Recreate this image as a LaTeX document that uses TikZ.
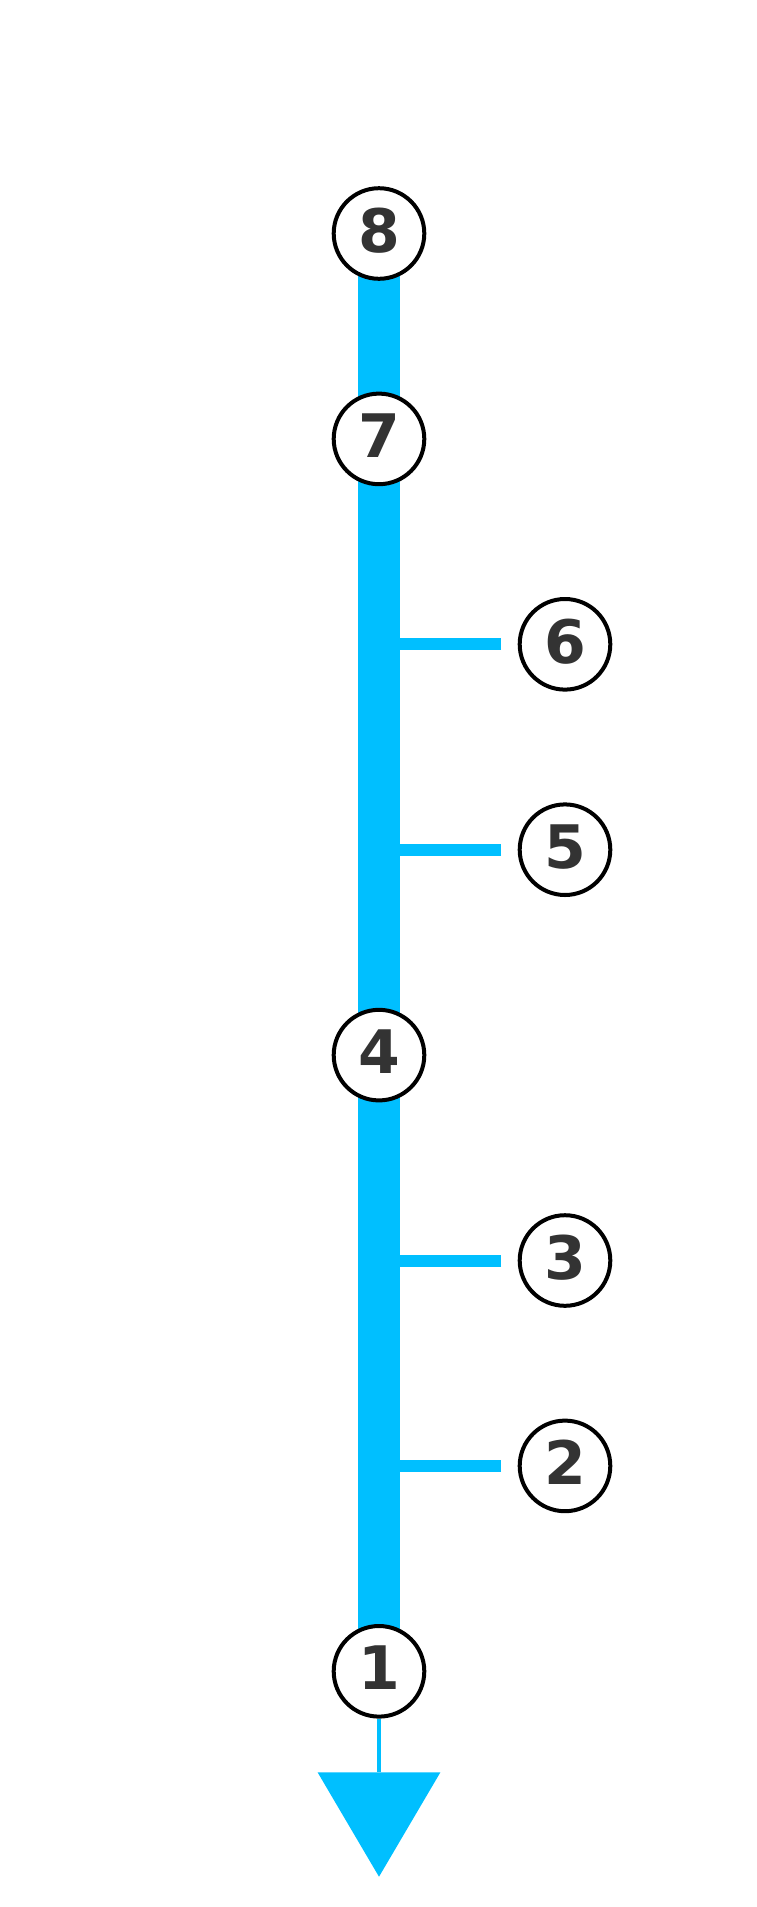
\documentclass[tikz,border=0pt]{standalone}
\usepackage{fontspec}
\setsansfont{DejaVu Sans}
\usetikzlibrary{positioning,calc,backgrounds}
\definecolor{skyblue}{HTML}{00BFFF}
\definecolor{numgray}{HTML}{333333}
\tikzset{
  stop/.style={circle, draw=black, fill=white, line width=4pt, minimum size=90.6pt, inner sep=0pt, text depth=7pt, text=numgray, font=\sffamily\bfseries\fontsize{60}{60}\selectfont},
  trunk/.style={draw=skyblue, line width=41.7pt},
  branch/.style={draw=skyblue, line width=12pt},
  tail/.style={draw=skyblue, line width=4pt}
}
\begin{document}
\begin{tikzpicture}[x=1pt, y=-1pt]
\useasboundingbox (0,0) rectangle (757,1907);
% stops on the main line
\node[stop] (n8) at (379,233.5) {8};
\node[stop, below=110.8pt of n8] (n7) {7};
\node[stop] (n4) at (379,1055.1) {4};
\node[stop] (n1) at (379,1671.3) {1};
% side stops
\node[stop] (n6) at (565,644.3) {6};
\node[stop] (n5) at (565,849.7) {5};
\node[stop] (n3) at (565,1260.5) {3};
\node[stop] (n2) at (565,1465.9) {2};
% lines
\begin{scope}[on background layer]
\draw[trunk] (n8.center) -- (n1.center);
\foreach \s in {n6,n5,n3,n2}
  \draw[branch] ([xshift=-16.5pt]\s.west) -- (\s -| n4);
\end{scope}
% arrow at the end
\coordinate (tip) at ($(n1.center)+(0,205.4)$);
\draw[tail] (n1.south) -- ($(tip)+(0,-105)$);
\fill[skyblue] ($(tip)+(-61.4,-104.4)$) -- ($(tip)+(61.4,-104.4)$) -- (tip) -- cycle;
\end{tikzpicture}
\end{document}
